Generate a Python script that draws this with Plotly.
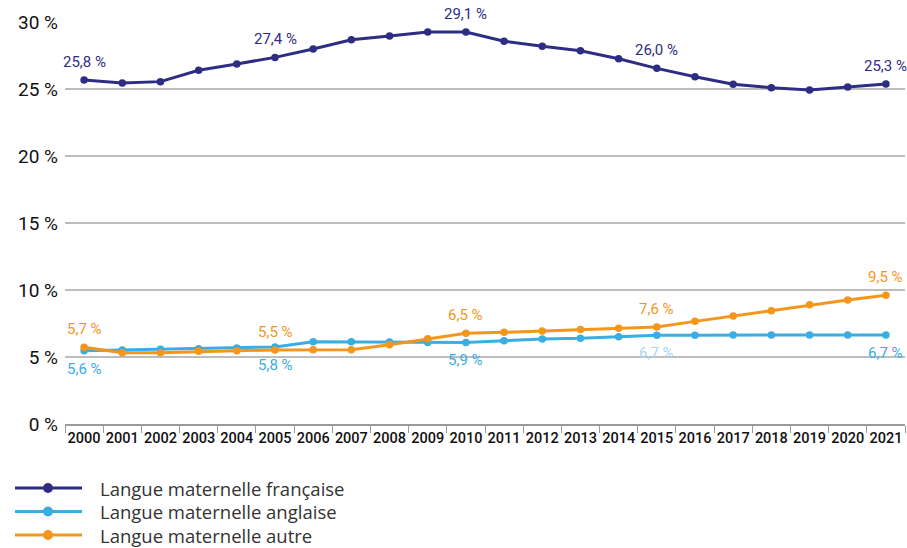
import plotly.graph_objects as go

years = [str(y) for y in range(2000, 2022)]

francaise = [25.67, 25.45, 25.55, 26.4, 26.87, 27.36, 27.98, 28.68, 28.96, 29.25, 29.25,
             28.56, 28.19, 27.86, 27.26, 26.54, 25.92, 25.35, 25.1, 24.93, 25.15, 25.37]
anglaise = [5.47, 5.52, 5.57, 5.62, 5.67, 5.75, 6.14, 6.14, 6.12, 6.09, 6.09,
            6.22, 6.34, 6.39, 6.52, 6.62, 6.62, 6.64, 6.64, 6.65, 6.65, 6.65]
autre = [5.72, 5.32, 5.32, 5.42, 5.47, 5.52, 5.55, 5.55, 5.92, 6.37, 6.77,
         6.84, 6.94, 7.06, 7.14, 7.24, 7.66, 8.06, 8.46, 8.9, 9.25, 9.6]

labels_francaise = {"2000": "25,8 %", "2005": "27,4 %", "2010": "29,1 %", "2015": "26,0 %", "2021": "25,3 %"}
labels_anglaise = {"2000": "5,6 %", "2005": "5,8 %", "2010": "5,9 %", "2015": "6,7 %", "2021": "6,7 %"}
labels_autre = {"2000": "5,7 %", "2005": "5,5 %", "2010": "6,5 %", "2015": "7,6 %", "2021": "9,5 %"}

names = ["Langue maternelle française", "Langue maternelle anglaise", "Langue maternelle autre"]
ytick_vals = [0, 5, 10, 15, 20, 25, 30]
ytick_text = ["0 %", "5 %", "10 %", "15 %", "20 %", "25 %", "30 %"]

colors = ["#2E2D84", "#3AADE2", "#F5961C"]
faded_label = {("anglaise", "2015"): "#A8D6F0"}

series = [
    ("francaise", francaise, labels_francaise, 18),
    ("anglaise", anglaise, labels_anglaise, -18),
    ("autre", autre, labels_autre, 18),
]

fig = go.Figure()
annotations = []
for (key, vals, labs, shift), name, col in zip(series, names, colors):
    fig.add_trace(go.Scatter(
        x=years, y=vals, name=name, mode="lines+markers",
        line=dict(color=col, width=3), marker=dict(size=7.5, color=col),
        cliponaxis=False, showlegend=False,
    ))
    for yr, txt in labs.items():
        i = years.index(yr)
        annotations.append(dict(
            x=i, y=vals[i], xref="x", yref="y", text=txt, showarrow=False, yshift=shift,
            font=dict(family="Roboto", size=15, color=faded_label.get((key, yr), col)),
        ))

# Manual legend (longer line symbols like the reference)
L, R, T, B = 65, 905, 22, 424
W, H = R - L, B - T
def px(xp):
    return (xp - L) / W
def py(yp):
    return (B - yp) / H

shapes = []
for i, (name, col) in enumerate(zip(names, colors)):
    yc = 488 + i * 23.5
    shapes.append(dict(type="line", xref="paper", yref="paper",
                       x0=px(15), x1=px(82), y0=py(yc), y1=py(yc),
                       line=dict(color=col, width=3)))
    shapes.append(dict(type="circle", xref="paper", yref="paper",
                       x0=px(43), x1=px(53), y0=py(yc + 5), y1=py(yc - 5),
                       fillcolor=col, line=dict(color=col, width=0)))
    annotations.append(dict(xref="paper", yref="paper", x=px(98), y=py(yc),
                            xanchor="left", yanchor="middle", showarrow=False,
                            text=name, font=dict(family="Open Sans", size=18.5, color="#333333")))

fig.update_layout(
    width=907, height=548,
    margin=dict(l=L, r=907 - R, t=T, b=548 - B),
    paper_bgcolor="white", plot_bgcolor="white",
    showlegend=False,
    annotations=annotations, shapes=shapes,
    xaxis=dict(
        type="category", tickson="boundaries", ticks="outside", ticklen=7,
        tickcolor="#9A9A9A", showline=True, linecolor="#9A9A9A", linewidth=1.5,
        showgrid=False, tickangle=0, automargin=False,
        tickfont=dict(family="Roboto", size=14.5, color="#111111", weight=500),
        range=[-0.5, 21.5],
    ),
    yaxis=dict(
        range=[0, 30], tickvals=ytick_vals, ticktext=ytick_text, automargin=False,
        showgrid=True, gridcolor="#BDBDBD", gridwidth=1.5, zeroline=False,
        tickfont=dict(family="Roboto", size=19, color="#111111"),
        ticklabelstandoff=6,
    ),
)

fig.write_html("out.html", config={"displayModeBar": False},
               post_script="document.body.style.margin='0';document.body.style.overflow='hidden';")
